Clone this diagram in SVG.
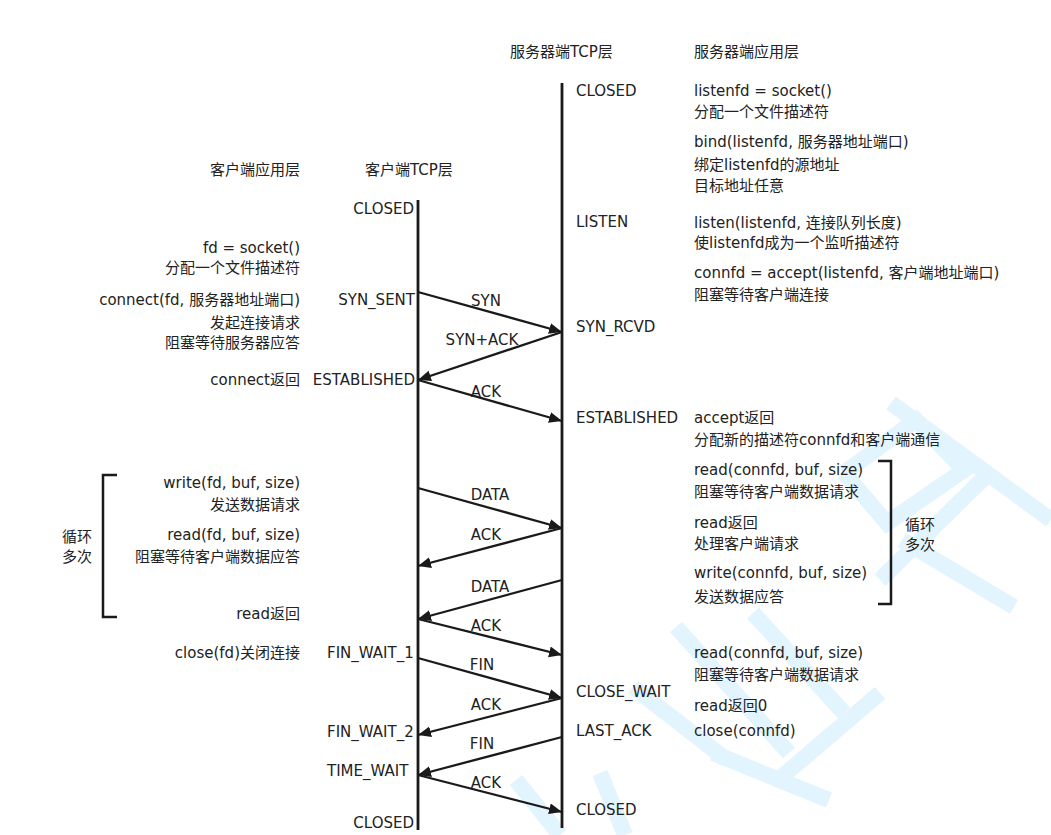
<svg xmlns="http://www.w3.org/2000/svg" width="1051" height="835" viewBox="0 0 1051 835">
<style>
text{font-family:"DejaVu Sans","Noto Sans CJK SC",sans-serif;font-size:15px;fill:#222222}
.r{text-anchor:end}
.m{text-anchor:middle}
.life{stroke:#1a1a1a;stroke-width:2.8;fill:none}
.msg{stroke:#1a1a1a;stroke-width:2.3;fill:none;marker-end:url(#ah)}
.br{stroke:#1a1a1a;stroke-width:2.5;fill:none}
.wm{stroke:#e2f4fd;stroke-width:16;fill:none;stroke-linecap:butt}
</style>
<defs>
<marker id="ah" markerUnits="userSpaceOnUse" markerWidth="14" markerHeight="12" refX="13" refY="5.5" orient="auto">
<path d="M0,0 L13,5.5 L0,11 z" fill="#1a1a1a"/>
</marker>
</defs>
<rect width="1051" height="835" fill="#ffffff"/>
<g id="watermark">
<line class="wm" x1="891" y1="403" x2="1051" y2="520"/>
<polyline class="wm" points="844,473 916,420 964,470 887,523 844,473"/>
<line class="wm" x1="989" y1="473" x2="880" y2="580"/>
<line class="wm" x1="902" y1="540" x2="1014" y2="607"/>
<line class="wm" x1="676" y1="627" x2="789" y2="753"/>
<line class="wm" x1="753" y1="613" x2="844" y2="713"/>
<line class="wm" x1="633" y1="687" x2="727" y2="760"/>
<line class="wm" x1="880" y1="693" x2="778" y2="780"/>
<line class="wm" x1="713" y1="753" x2="829" y2="800"/>
<line class="wm" x1="516" y1="780" x2="560" y2="835"/>
<line class="wm" x1="600" y1="773" x2="625" y2="835"/>
</g>
<g id="headers">
<text x="510" y="57">服务器端TCP层</text>
<text x="694" y="57">服务器端应用层</text>
<text class="r" x="300" y="175">客户端应用层</text>
<text x="365" y="175">客户端TCP层</text>
</g>
<g id="client-tcp">
<line class="life" x1="418" y1="200" x2="418" y2="830"/>
<text class="r" x="414" y="214">CLOSED</text>
<text class="r" x="415" y="305">SYN_SENT</text>
<text class="r" x="415" y="385">ESTABLISHED</text>
<text x="327" y="658">FIN_WAIT_1</text>
<text x="327" y="737">FIN_WAIT_2</text>
<text x="327" y="776">TIME_WAIT</text>
<text class="r" x="414" y="828">CLOSED</text>
</g>
<g id="server-tcp">
<line class="life" x1="562" y1="83" x2="562" y2="828"/>
<text x="576" y="96">CLOSED</text>
<text x="576" y="227">LISTEN</text>
<text x="576" y="332">SYN_RCVD</text>
<text x="576" y="423">ESTABLISHED</text>
<text x="576" y="697">CLOSE_WAIT</text>
<text x="576" y="736">LAST_ACK</text>
<text x="576" y="815">CLOSED</text>
</g>
<g id="client-app">
<text class="r" x="300" y="253">fd = socket()</text>
<text class="r" x="300" y="273">分配一个文件描述符</text>
<text class="r" x="300" y="305">connect(fd, 服务器地址端口)</text>
<text class="r" x="300" y="328">发起连接请求</text>
<text class="r" x="300" y="348">阻塞等待服务器应答</text>
<text class="r" x="300" y="385">connect返回</text>
<text class="r" x="300" y="488">write(fd, buf, size)</text>
<text class="r" x="300" y="510">发送数据请求</text>
<text class="r" x="300" y="540">read(fd, buf, size)</text>
<text class="r" x="300" y="562">阻塞等待客户端数据应答</text>
<text class="r" x="300" y="619">read返回</text>
<text class="r" x="300" y="658">close(fd)关闭连接</text>
</g>
<g id="client-loop">
<path class="br" d="M117,475 H103 V617 H117"/>
<text x="62" y="542">循环</text>
<text x="62" y="562">多次</text>
</g>
<g id="server-app">
<text x="694" y="96">listenfd = socket()</text>
<text x="694" y="117">分配一个文件描述符</text>
<text x="694" y="147">bind(listenfd, 服务器地址端口)</text>
<text x="694" y="170">绑定listenfd的源地址</text>
<text x="694" y="191">目标地址任意</text>
<text x="694" y="228">listen(listenfd, 连接队列长度)</text>
<text x="694" y="248">使listenfd成为一个监听描述符</text>
<text x="694" y="278">connfd = accept(listenfd, 客户端地址端口)</text>
<text x="694" y="300">阻塞等待客户端连接</text>
<text x="694" y="423">accept返回</text>
<text x="694" y="445">分配新的描述符connfd和客户端通信</text>
<text x="694" y="475">read(connfd, buf, size)</text>
<text x="694" y="497">阻塞等待客户端数据请求</text>
<text x="694" y="528">read返回</text>
<text x="694" y="549">处理客户端请求</text>
<text x="694" y="578">write(connfd, buf, size)</text>
<text x="694" y="602">发送数据应答</text>
<text x="694" y="658">read(connfd, buf, size)</text>
<text x="694" y="680">阻塞等待客户端数据请求</text>
<text x="694" y="711">read返回0</text>
<text x="694" y="736">close(connfd)</text>
</g>
<g id="server-loop">
<path class="br" d="M878,461 H891 V604 H878"/>
<text x="905" y="530">循环</text>
<text x="905" y="550">多次</text>
</g>
<g id="connectors">
<line class="msg" x1="418" y1="292" x2="562" y2="332"/>
<line class="msg" x1="562" y1="332" x2="418" y2="380"/>
<line class="msg" x1="418" y1="380" x2="562" y2="421"/>
<line class="msg" x1="418" y1="488" x2="562" y2="528"/>
<line class="msg" x1="562" y1="528" x2="418" y2="566"/>
<line class="msg" x1="562" y1="580" x2="418" y2="619"/>
<line class="msg" x1="418" y1="619" x2="562" y2="655"/>
<line class="msg" x1="418" y1="658" x2="562" y2="698"/>
<line class="msg" x1="562" y1="698" x2="418" y2="735"/>
<line class="msg" x1="562" y1="737" x2="418" y2="775"/>
<line class="msg" x1="418" y1="775" x2="562" y2="812"/>
<text class="m" x="486" y="306">SYN</text>
<text class="m" x="482" y="345">SYN+ACK</text>
<text class="m" x="486" y="397">ACK</text>
<text class="m" x="490" y="500">DATA</text>
<text class="m" x="486" y="540">ACK</text>
<text class="m" x="490" y="592">DATA</text>
<text class="m" x="486" y="631">ACK</text>
<text class="m" x="482" y="670">FIN</text>
<text class="m" x="486" y="710">ACK</text>
<text class="m" x="482" y="749">FIN</text>
<text class="m" x="486" y="788">ACK</text>
</g>
</svg>
